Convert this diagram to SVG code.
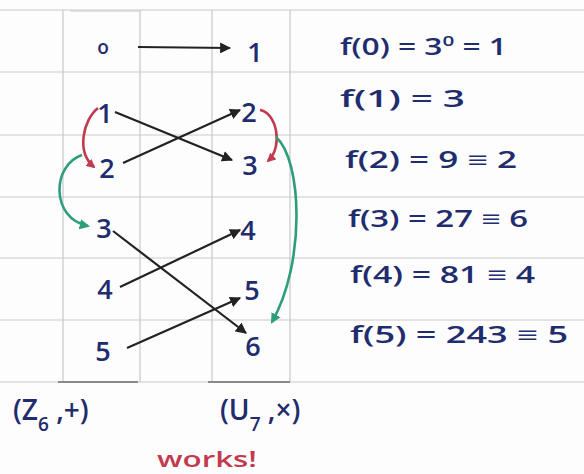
<svg xmlns="http://www.w3.org/2000/svg" width="584" height="474" viewBox="0 0 584 474">
<style>
.grid{stroke:#c9c9c9;stroke-width:1.2;fill:none}
.edge{stroke:#8a8a8a;stroke-width:2.2;fill:none}
.num{font-family:"Open Sans","Liberation Sans",sans-serif;font-size:27px;fill:#1f2d6e;font-weight:600;text-anchor:middle}
.eq{font-family:"Open Sans","Liberation Sans",sans-serif;font-size:23px;fill:#1f2d6e;font-weight:600}
.lbl{font-family:"Open Sans","Liberation Sans",sans-serif;font-size:28px;fill:#1f2d6e;font-weight:600}
.red{font-family:"Open Sans","Liberation Sans",sans-serif;font-size:22px;fill:#c23a4e;font-weight:600}
.blk{stroke:#222;stroke-width:2.2;fill:none;marker-end:url(#ab)}
.rc{stroke:#c23a4e;stroke-width:2.6;fill:none;marker-end:url(#ar)}
.gc{stroke:#2e9d7c;stroke-width:2.6;fill:none;marker-end:url(#ag)}
</style>
<defs>
<marker id="ab" viewBox="0 0 10 10" refX="9" refY="5" markerWidth="5" markerHeight="5" orient="auto"><path d="M0,0 L10,5 L0,10 z" fill="#222"/></marker>
<marker id="ar" viewBox="0 0 10 10" refX="8" refY="5" markerWidth="3.5" markerHeight="3.5" orient="auto"><path d="M0,0 L10,5 L0,10 z" fill="#c23a4e"/></marker>
<marker id="ag" viewBox="0 0 10 10" refX="8" refY="5" markerWidth="4" markerHeight="4" orient="auto"><path d="M0,0 L10,5 L0,10 z" fill="#2e9d7c"/></marker>
</defs>
<rect width="584" height="474" fill="#fdfdfd"/>
<g id="grid">
<path class="grid" d="M0,10H584M0,72H584M0,135H584M0,197H584M0,258H584M0,320H584M0,382H584"/>
<path class="grid" d="M63,10V382M140,10V382M212,10V382M290,10V382"/>
<path class="grid" d="M70,11H140" stroke="#a8a8a8"/>
<path class="edge" d="M58,382H138M208,382H290"/>
</g>
<g id="connectors">
<path class="blk" d="M138,47 L230,48"/>
<path class="blk" d="M115,112 L232,160"/>
<path class="blk" d="M123,163 L240,110"/>
<path class="blk" d="M113,231 L246,333"/>
<path class="blk" d="M120,287 L240,230"/>
<path class="blk" d="M127,348 L240,298"/>
<path class="rc" d="M98,108 C83,120 76,152 94,167"/>
<path class="rc" d="M260,110 C276,112 284,146 268,161"/>
<path class="gc" d="M82,155 C52,165 50,218 88,226"/>
<path class="gc" d="M276,137 C302,160 306,262 272,322"/>
</g>
<g id="L0"><text class="num" x="103" y="54" style="font-size:19px">o</text></g>
<g id="L1"><text class="num" x="105" y="123">1</text></g>
<g id="L2"><text class="num" x="107" y="178">2</text></g>
<g id="L3"><text class="num" x="104" y="238">3</text></g>
<g id="L4"><text class="num" x="105" y="299">4</text></g>
<g id="L5"><text class="num" x="103" y="361">5</text></g>
<g id="R1"><text class="num" x="255" y="62">1</text></g>
<g id="R2"><text class="num" x="249" y="122">2</text></g>
<g id="R3"><text class="num" x="250" y="175">3</text></g>
<g id="R4"><text class="num" x="248" y="240">4</text></g>
<g id="R5"><text class="num" x="252" y="300">5</text></g>
<g id="R6"><text class="num" x="253" y="356">6</text></g>
<g id="eq0"><text class="eq" x="340" y="55" textLength="167" lengthAdjust="spacingAndGlyphs">f(0) = 3<tspan dy="-9" font-size="15">0</tspan><tspan dy="9"> = 1</tspan></text></g>
<g id="eq1"><text class="eq" x="340" y="107" textLength="125" lengthAdjust="spacingAndGlyphs">f(1)  = 3</text></g>
<g id="eq2"><text class="eq" x="345" y="168" textLength="172" lengthAdjust="spacingAndGlyphs">f(2) = 9 ≡ 2</text></g>
<g id="eq3"><text class="eq" x="348" y="227" textLength="180" lengthAdjust="spacingAndGlyphs">f(3) = 27 ≡ 6</text></g>
<g id="eq4"><text class="eq" x="350" y="283" textLength="185" lengthAdjust="spacingAndGlyphs">f(4) = 81 ≡ 4</text></g>
<g id="eq5"><text class="eq" x="350" y="343" textLength="218" lengthAdjust="spacingAndGlyphs">f(5) = 243 ≡ 5</text></g>
<g id="Z6"><text class="lbl" x="13" y="420">(Z<tspan dy="11" font-size="19">6</tspan><tspan dy="-11"> ,+)</tspan></text></g>
<g id="U7"><text class="lbl" x="220" y="420">(U<tspan dy="11" font-size="19">7</tspan><tspan dy="-11"> ,×)</tspan></text></g>
<g id="works"><text class="red" x="157" y="467" textLength="100" lengthAdjust="spacingAndGlyphs">works!</text></g>
</svg>
